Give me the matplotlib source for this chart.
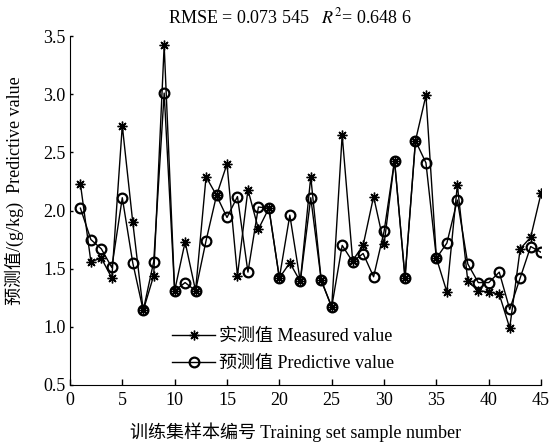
import matplotlib
matplotlib.use("Agg")
import matplotlib.pyplot as plt
import numpy as np

samples = list(range(1, 46))
measured = [2.23, 1.56, 1.59, 1.42, 2.73, 1.90, 1.14, 1.44, 3.42, 1.31,
            1.73, 1.31, 2.29, 2.13, 2.40, 1.44, 2.18, 1.84, 2.02, 1.42,
            1.55, 1.39, 2.29, 1.40, 1.17, 2.65, 1.57, 1.70, 2.12, 1.71,
            2.43, 1.42, 2.60, 2.99, 1.59, 1.30, 2.22, 1.39, 1.31, 1.30,
            1.28, 0.99, 1.67, 1.77, 2.15]
predicted = [2.02, 1.75, 1.67, 1.51, 2.11, 1.55, 1.14, 1.56, 3.01, 1.31,
             1.38, 1.31, 1.74, 2.13, 1.94, 2.12, 1.47, 2.03, 2.02, 1.42,
             1.96, 1.39, 2.11, 1.40, 1.17, 1.70, 1.56, 1.63, 1.43, 1.82,
             2.43, 1.42, 2.60, 2.41, 1.59, 1.72, 2.09, 1.54, 1.38, 1.38,
             1.47, 1.15, 1.42, 1.69, 1.64]
xticks = [0, 5, 10, 15, 20, 25, 30, 35, 40, 45]
yticks = [0.5, 1.0, 1.5, 2.0, 2.5, 3.0, 3.5]

plt.rcParams['font.family'] = ['Liberation Serif', 'Noto Sans CJK SC']
plt.rcParams['mathtext.fontset'] = 'stix'

fig = plt.figure(figsize=(5.55, 4.46), dpi=100)
ax = fig.add_axes([0.126, 0.137, 0.849, 0.782])

ax.plot(samples, measured, color='black', lw=1.0, marker=(8, 2, 0),
        markersize=7, markeredgewidth=1.0, label='实测值 Measured value')
ax.plot(samples, predicted, color='black', lw=1.0, marker='o',
        markersize=7, markerfacecolor='none', markeredgewidth=1.6,
        label='预测值 Predictive value')

ax.set_xlim(0, 45)
ax.set_ylim(0.5, 3.5)
ax.set_xticks(xticks)
ax.set_yticks(yticks)
ax.set_xticklabels([str(v) for v in xticks])
ax.set_yticklabels([f"{v:.1f}" for v in yticks])
ax.tick_params(direction='in', length=4, labelsize=13, width=1)
ax.tick_params(axis='x', pad=5)
ax.tick_params(axis='y', length=2, pad=3)
ax.spines['top'].set_visible(False)
ax.spines['right'].set_visible(False)

ax.set_xlabel('训练集样本编号 Training set sample number', fontsize=13)
ax.xaxis.set_label_coords(0.478, -0.108)
ax.set_ylabel('预测值/(g/kg)  Predictive value', fontsize=13)
ax.yaxis.set_label_coords(-0.097, 0.556)

fig.text(0.523, 0.962, 'RMSE = 0.073 545   $R^2$= 0.648 6', ha='center',
         va='center', fontsize=13)

ax.legend(loc='lower left', bbox_to_anchor=(0.19, 0.0), frameon=False,
          fontsize=13, handlelength=2.4, borderpad=0.2, labelspacing=0.55,
          handletextpad=0.2)

fig.savefig('out.png', dpi=100)
